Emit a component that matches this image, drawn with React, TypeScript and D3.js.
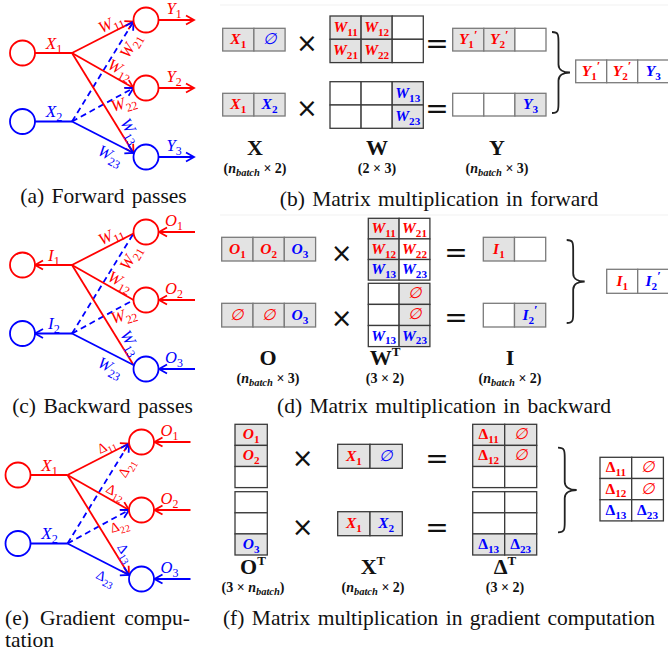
import React, { useEffect, useRef } from "react";
import * as d3 from "d3";

const RED = "#ff0000";
const BLUE = "#0000ff";
const SERIF = "'Liberation Serif', 'Times New Roman', serif";
const SANS = "'DejaVu Sans', sans-serif";

// network labels
const fwdInputs = ["X_1", "X_2"];
const fwdOutputs = ["Y_1", "Y_2", "Y_3"];
const bwdInputs = ["I_1", "I_2"];
const bwdOutputs = ["O_1", "O_2", "O_3"];
const weightLabels = ["W_11", "W_21", "W_12", "W_22", "W_13", "W_23"];
const deltaLabels = ["Δ_11", "Δ_21", "Δ_12", "Δ_22", "Δ_13", "Δ_23"];
// [input, output] pairs, same order as the edge labels
const edges = [[0, 0], [1, 0], [0, 1], [1, 1], [0, 2], [1, 2]];

// matrices: "*" = shaded cell, ":r" / ":b" = red / blue
const fX1 = [["*X_1:r", "*∅:b"]];
const fW1 = [["*W_11:r", "*W_12:r", ""], ["*W_21:r", "*W_22:r", ""]];
const fY1 = [["*Y_1':r", "*Y_2':r", ""]];
const fX2 = [["*X_1:r", "*X_2:b"]];
const fW2 = [["", "", "*W_13:b"], ["", "", "*W_23:b"]];
const fY2 = [["", "", "*Y_3:b"]];
const fOut = [["Y_1':r", "Y_2':r", "Y_3:b"]];

const bO1 = [["*O_1:r", "*O_2:r", "*O_3:b"]];
const bW1 = [["*W_11:r", "W_21:r"], ["*W_12:r", "W_22:r"], ["*W_13:b", "W_23:b"]];
const bI1 = [["*I_1:r", ""]];
const bO2 = [["*∅:r", "*∅:r", "*O_3:b"]];
const bW2 = [["", "*∅:r"], ["", "*∅:r"], ["W_13:b", "*W_23:b"]];
const bI2 = [["", "*I_2':b"]];
const bOut = [["I_1:r", "I_2':b"]];

const gO1 = [["*O_1:r"], ["*O_2:r"], [""]];
const gX1 = [["*X_1:r", "*∅:b"]];
const gD1 = [["*Δ_11:r", "*∅:r"], ["*Δ_12:r", "*∅:r"], ["", ""]];
const gO2 = [[""], [""], ["*O_3:b"]];
const gX2 = [["*X_1:r", "*X_2:b"]];
const gD2 = [["", ""], ["", ""], ["*Δ_13:b", "*Δ_23:b"]];
const gOut = [["Δ_11:r", "∅:r"], ["Δ_12:r", "∅:r"], ["Δ_13:b", "Δ_23:b"]];

// matrix names: [symbol, superscript, shape]
const fwdNames = [["X", "", "(n_batch × 2)"], ["W", "", "(2 × 3)"], ["Y", "", "(n_batch × 3)"]];
const bwdNames = [["O", "", "(n_batch × 3)"], ["W", "T", "(3 × 2)"], ["I", "", "(n_batch × 2)"]];
const gradNames = [["O", "T", "(3 × n_batch)"], ["X", "T", "(n_batch × 2)"], ["Δ", "T", "(3 × 2)"]];

const captions = [
  "(a) Forward passes",
  "(b) Matrix multiplication in forward",
  "(c) Backward passes",
  "(d) Matrix multiplication in backward",
  "(f) Matrix multiplication in gradient computation",
];
const captionE = ["(e)", "Gradient", "compu-", "tation"];

type Sel = d3.Selection<any, any, any, any>;

function parseTerm(s: string) {
  const m = s.match(/^([^_']+)(?:_([^']+))?(')?$/);
  return { base: m ? m[1] : s, sub: m && m[2] ? m[2] : "", prime: !!(m && m[3]) };
}

function mathText(g: Sel, x: number, y: number, term: string, size: number, color: string, bold: boolean) {
  const { base, sub, prime } = parseTerm(term);
  const upright = base === "Δ";
  const t = g.append("text")
    .attr("x", x).attr("y", y)
    .attr("text-anchor", "middle")
    .attr("font-family", SERIF)
    .attr("font-size", size)
    .attr("fill", color);
  t.append("tspan")
    .attr("font-style", upright ? "normal" : "italic")
    .attr("font-weight", bold && base !== "∅" ? "bold" : "normal")
    .text(base);
  if (sub) {
    t.append("tspan").attr("font-size", size * 0.72).attr("dy", size * 0.25)
      .attr("font-weight", bold ? "bold" : "normal").text(sub);
  }
  if (prime) {
    t.append("tspan").attr("font-size", size * 0.85).attr("dy", -size * 0.6)
      .attr("font-weight", bold ? "bold" : "normal").text("′");
  }
  return t;
}

function drawMatrix(svg: Sel, cells: string[][], x: number, y: number, cw: number, ch: number, stroke: string) {
  const g = svg.append("g");
  cells.forEach((row, ri) => {
    row.forEach((code, ci) => {
      const active = code.startsWith("*");
      const body = active ? code.slice(1) : code;
      const cx = x + ci * cw;
      const cy = y + ri * ch;
      g.append("rect")
        .attr("x", cx).attr("y", cy).attr("width", cw).attr("height", ch)
        .attr("fill", active ? "#e3e3e3" : "#fff")
        .attr("stroke", stroke).attr("stroke-width", 1.3);
      if (body) {
        const [term, c] = body.split(":");
        mathText(g, cx + cw / 2, cy + ch / 2 + 4.5, term, 15.5, c === "r" ? RED : BLUE, true);
      }
    });
  });
}

function opSign(svg: Sel, x: number, y: number, s: string, size: number) {
  svg.append("text").attr("x", x).attr("y", y)
    .attr("text-anchor", "middle").attr("dominant-baseline", "central")
    .attr("font-family", SANS).attr("font-size", size).attr("fill", "#111").text(s);
}

function brace(svg: Sel, x0: number, y0: number, y1: number, w: number) {
  const ym = (y0 + y1) / 2;
  const s = x0 + w * 0.36;
  const p = d3.path();
  p.moveTo(x0, y0);
  p.bezierCurveTo(s, y0, s, y0 + 3, s, y0 + 10);
  p.lineTo(s, ym - 8);
  p.bezierCurveTo(s, ym - 2, x0 + w * 0.7, ym, x0 + w, ym);
  p.bezierCurveTo(x0 + w * 0.7, ym, s, ym + 2, s, ym + 8);
  p.lineTo(s, y1 - 10);
  p.bezierCurveTo(s, y1 - 3, s, y1, x0, y1);
  svg.append("path").attr("d", p.toString()).attr("fill", "none")
    .attr("stroke", "#222").attr("stroke-width", 1.8);
}

function matrixName(svg: Sel, x: number, y: number, name: string[]) {
  const [sym, sup, shape] = name;
  const t = svg.append("text").attr("x", x).attr("y", y).attr("text-anchor", "middle")
    .attr("font-family", SERIF).attr("font-weight", "bold").attr("font-size", 22).attr("fill", "#111");
  t.append("tspan").text(sym);
  if (sup) t.append("tspan").attr("font-size", 13).attr("dy", -9).text(sup);
  const s = svg.append("text").attr("x", x).attr("y", y + 17.5).attr("text-anchor", "middle")
    .attr("font-family", SERIF).attr("font-weight", "bold").attr("font-size", 14).attr("fill", "#111");
  const parts = shape.split("n_batch");
  s.append("tspan").text(parts[0]);
  if (parts.length > 1) {
    s.append("tspan").attr("font-style", "italic").text("n");
    s.append("tspan").attr("font-style", "italic").attr("font-size", 10.5).attr("dy", 3).text("batch");
    s.append("tspan").attr("dy", -3).text(parts[1]);
  }
}

const edgeLabelPos = [[111, -29, -25], [131, -7, -60], [120, 17, 28], [124, 51, -17], [130, 78, 60], [110, 103, 27]];

function drawNet(svg: Sel, ox: number, oy: number, mode: string, ins: string[], outs: string[], eLabels: string[]) {
  const g = svg.append("g").attr("transform", `translate(${ox},${oy})`);
  const r = 12.5;
  const inY = [0, 68.5];
  const outY = [-33, 35, 104];
  const inX = 22.5, hubX = 72, outX = 146;
  const tgt = [1.5, 0, -4];
  const col = (i: number) => (i === 0 ? RED : BLUE);
  const mk = (c: string) => `url(#arr-${c === RED ? "r" : "b"})`;
  const sw = 1.8;

  edges.forEach(([i, j]) => {
    const l = g.append("line")
      .attr("x1", hubX).attr("y1", inY[i])
      .attr("x2", outX - r).attr("y2", outY[j] + tgt[j])
      .attr("stroke", col(i)).attr("stroke-width", sw);
    if (i === 1 && j < 2) l.attr("stroke-dasharray", "6,4");
    if (mode !== "bwd") l.attr("marker-end", mk(col(i)));
  });

  inY.forEach((y, i) => {
    const l = g.append("line").attr("stroke", col(i)).attr("stroke-width", sw);
    if (mode === "bwd") {
      l.attr("x1", hubX).attr("y1", y).attr("x2", inX + r).attr("y2", y).attr("marker-end", mk(col(i)));
    } else {
      l.attr("x1", inX + r).attr("y1", y).attr("x2", hubX).attr("y2", y);
    }
    g.append("circle").attr("cx", inX).attr("cy", y).attr("r", r)
      .attr("fill", "#fff").attr("stroke", col(i)).attr("stroke-width", sw);
    mathText(g, 54, y - 4.5, ins[i], 17, col(i), false);
  });

  outY.forEach((y, j) => {
    const c = j < 2 ? RED : BLUE;
    const l = g.append("line").attr("stroke", c).attr("stroke-width", sw).attr("marker-end", mk(c));
    if (mode === "fwd") {
      l.attr("x1", outX + r).attr("y1", y).attr("x2", outX + 48).attr("y2", y);
    } else {
      l.attr("x1", outX + 49).attr("y1", y).attr("x2", outX + r + 0.5).attr("y2", y);
    }
    g.append("circle").attr("cx", outX).attr("cy", y).attr("r", r)
      .attr("fill", "#fff").attr("stroke", c).attr("stroke-width", sw);
    mathText(g, outX + 28, y - 6, outs[j], 16.5, c, false);
  });

  eLabels.forEach((lab, k) => {
    const [lx, ly, rot] = edgeLabelPos[k];
    const c = edges[k][1] < 2 ? RED : BLUE;
    const lg = g.append("g").attr("transform", `translate(${lx},${ly}) rotate(${rot})`);
    mathText(lg, 0, 4.5, lab, lab.startsWith("Δ") ? 14 : 16.5, c, false);
  });
}

export default function App() {
  const ref = useRef<SVGSVGElement>(null);

  useEffect(() => {
    const svg = d3.select(ref.current);
    svg.selectAll("*").remove();

    const defs = svg.append("defs");
    [["r", RED], ["b", BLUE]].forEach(([id, c]) => {
      defs.append("marker")
        .attr("id", `arr-${id}`)
        .attr("viewBox", "-11 -6 13 12")
        .attr("refX", 0).attr("refY", 0)
        .attr("markerWidth", 13).attr("markerHeight", 12)
        .attr("markerUnits", "userSpaceOnUse")
        .attr("orient", "auto")
        .append("path")
        .attr("d", "M-8,-4.5 L0,0 L-8,4.5")
        .attr("fill", "none").attr("stroke", c).attr("stroke-width", 1.8);
    });

    // faint frame lines of the source images
    [5, 215].forEach((y) => {
      svg.append("line").attr("x1", 220).attr("x2", 668).attr("y1", y).attr("y2", y)
        .attr("stroke", "#f1f1f1").attr("stroke-width", 1);
    });

    // networks
    drawNet(svg, 0, 53, "fwd", fwdInputs, fwdOutputs, weightLabels);
    drawNet(svg, 0, 265, "bwd", bwdInputs, bwdOutputs, weightLabels);
    drawNet(svg, -4.5, 475, "grad", fwdInputs, bwdOutputs, deltaLabels);

    const GREY = "#7a7a7a";
    const DARK = "#3a3a3a";

    // (b) forward
    drawMatrix(svg, fX1, 222.7, 28.3, 31.2, 22.7, GREY);
    drawMatrix(svg, fW1, 330, 16, 31.1, 23.3, DARK);
    drawMatrix(svg, fY1, 452.7, 28.3, 31.1, 22.7, GREY);
    drawMatrix(svg, fX2, 222.7, 93.3, 31.2, 22.7, GREY);
    drawMatrix(svg, fW2, 330, 81.7, 31.1, 23.3, DARK);
    drawMatrix(svg, fY2, 452.7, 93.3, 31.1, 22.7, GREY);
    drawMatrix(svg, fOut, 575.7, 60, 31, 22.7, GREY);
    [43, 108].forEach((y) => { opSign(svg, 307, y, "×", 26); opSign(svg, 437, y, "=", 28); });
    brace(svg, 552, 32, 113, 18);
    [255, 377, 497].forEach((x, i) => matrixName(svg, x, 155, fwdNames[i]));

    // (d) backward
    drawMatrix(svg, bO1, 221.7, 237.3, 31.3, 23.7, GREY);
    drawMatrix(svg, bW1, 368.3, 218.3, 30.8, 20.6, DARK);
    drawMatrix(svg, bI1, 483.3, 237.3, 31.2, 23.7, GREY);
    drawMatrix(svg, bO2, 221.7, 303.3, 31.3, 23.7, GREY);
    drawMatrix(svg, bW2, 368.3, 283.3, 30.8, 21.1, DARK);
    drawMatrix(svg, bI2, 483.3, 303.3, 31.2, 23.7, GREY);
    drawMatrix(svg, bOut, 606.7, 269.3, 31, 24, GREY);
    [[253, 252], [318, 317]].forEach(([y1, y2]) => { opSign(svg, 341.7, y1, "×", 26); opSign(svg, 456, y2, "=", 28); });
    brace(svg, 566.7, 240, 323, 18);
    [268, 385, 510].forEach((x, i) => matrixName(svg, x, 365, bwdNames[i]));

    // (f) gradient
    drawMatrix(svg, gO1, 235, 424.3, 32.3, 21.1, DARK);
    drawMatrix(svg, gO2, 235, 491.7, 32.3, 21.1, DARK);
    drawMatrix(svg, gX1, 337.7, 444.3, 32.3, 24, DARK);
    drawMatrix(svg, gX2, 337.7, 511.7, 32.3, 24, DARK);
    drawMatrix(svg, gD1, 472.7, 424.3, 32, 21.1, DARK);
    drawMatrix(svg, gD2, 472.7, 491.7, 32, 21.1, DARK);
    drawMatrix(svg, gOut, 600, 457.3, 31.7, 21.2, DARK);
    [458, 527].forEach((y) => { opSign(svg, 302.7, y, "×", 26); opSign(svg, 437, y, "=", 28); });
    brace(svg, 558, 447.7, 532.3, 18.7);
    [253, 373, 505].forEach((x, i) => matrixName(svg, x, 574, gradNames[i]));

    // captions
    const cap = (x: number, y: number, s: string, anchor = "middle") =>
      svg.append("text").attr("x", x).attr("y", y).attr("text-anchor", anchor)
        .attr("font-family", SERIF).attr("font-size", 21.5).attr("word-spacing", 2)
        .attr("fill", "#111").text(s);
    cap(103.5, 203, captions[0]);
    cap(439, 206, captions[1]);
    cap(102.5, 413, captions[2]);
    cap(444, 413, captions[3]);
    cap(439, 625, captions[4]);
    cap(5, 625, captionE[0], "start");
    cap(40, 625, captionE[1], "start");
    cap(190, 625, captionE[2], "end");
    cap(5, 647, captionE[3], "start");
  }, []);

  return (
    <svg
      ref={ref}
      width={668}
      height={656}
      style={{ position: "absolute", left: 0, top: 0, background: "#fff" }}
    />
  );
}
